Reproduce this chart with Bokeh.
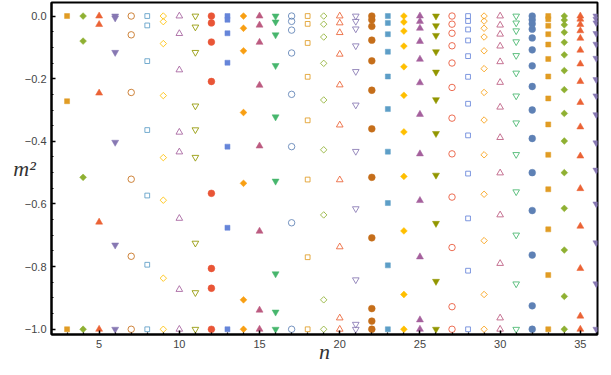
import numpy as np
from bokeh.plotting import figure
from bokeh.models import Range1d, FixedTicker
from bokeh.embed import file_html
from bokeh.resources import INLINE

# ---------------- data (m^2 levels for each n) ----------------
n_values = list(range(3, 37))

m2_n03 = [0.0, -0.272, -1.0]
m2_n04 = [0.0, -0.080, -0.515, -1.0]
m2_n05 = [0.0, -0.027, -0.246, -0.658, -1.0]
m2_n06 = [0.0, -0.006, -0.116, -0.403, -0.731, -1.0]
m2_n07 = [0.0, -0.060, -0.244, -0.521, -0.767, -1.0]
m2_n08 = [0.0, -0.030, -0.144, -0.364, -0.573, -0.794, -1.0]
m2_n09 = [0.0, -0.018, -0.088, -0.254, -0.452, -0.588, -0.837, -1.0]
m2_n10 = [0.0, -0.056, -0.172, -0.371, -0.434, -0.646, -0.873, -1.0]
m2_n11 = [0.0, -0.035, -0.116, -0.287, -0.363, -0.451, -0.725, -0.883, -1.0]
m2_n12 = [0.0, -0.022, -0.083, -0.209, -0.566, -0.806, -0.869, -1.0]
m2_n13 = [0.0, -0.012, -0.055, -0.149, -0.417, -0.676, -1.0]
m2_n14 = [0.0, -0.039, -0.111, -0.308, -0.534, -0.906, -1.0]
m2_n15 = [0.0, -0.029, -0.084, -0.221, -0.415, -0.687, -0.939, -1.0]
m2_n16 = [0.0, -0.019, -0.060, -0.158, -0.322, -0.527, -0.823, -0.945, -1.0]
m2_n17 = [0.0, -0.017, -0.045, -0.118, -0.250, -0.417, -0.660, -1.0]
m2_n18 = [0.0, -0.025, -0.086, -0.194, -0.333, -0.522, -0.770, -1.0]
m2_n19 = [0.0, -0.026, -0.067, -0.151, -0.268, -0.427, -0.635, -0.906, -1.0]
m2_n20 = [0.0, -0.022, -0.053, -0.122, -0.220, -0.348, -0.523, -0.737, -0.964, -1.0]
m2_n21 = [0.0, -0.017, -0.041, -0.095, -0.177, -0.284, -0.432, -0.615, -0.842, -0.984, -1.0]
m2_n22 = [0.0, -0.012, -0.033, -0.077, -0.143, -0.237, -0.360, -0.515, -0.708, -0.934, -0.974, -1.0]
m2_n23 = [0.0, -0.022, -0.058, -0.114, -0.193, -0.297, -0.433, -0.597, -0.796, -1.0]
m2_n24 = [0.0, -0.019, -0.048, -0.096, -0.162, -0.253, -0.370, -0.512, -0.686, -0.889, -1.0]
m2_n25 = [0.0, -0.017, -0.039, -0.081, -0.138, -0.213, -0.314, -0.440, -0.589, -0.769, -0.970, -1.0]
m2_n26 = [0.0, -0.031, -0.062, -0.114, -0.179, -0.267, -0.375, -0.508, -0.662, -0.847, -1.0]
m2_n27 = [0.0, -0.026, -0.055, -0.095, -0.150, -0.228, -0.326, -0.440, -0.578, -0.739, -0.928, -1.0]
m2_n28 = [0.0, -0.016, -0.043, -0.078, -0.128, -0.194, -0.280, -0.381, -0.503, -0.646, -0.813, -1.0]
m2_n29 = [0.0, -0.016, -0.039, -0.067, -0.111, -0.168, -0.244, -0.332, -0.443, -0.569, -0.717, -0.889, -1.0]
m2_n30 = [0.0, -0.029, -0.058, -0.096, -0.146, -0.212, -0.291, -0.388, -0.501, -0.635, -0.790, -0.964, -1.0]
m2_n31 = [0.0, -0.022, -0.047, -0.082, -0.126, -0.182, -0.255, -0.341, -0.442, -0.561, -0.699, -0.855, -1.0]
m2_n32 = [0.0, -0.012, -0.025, -0.042, -0.070, -0.108, -0.159, -0.225, -0.300, -0.391, -0.500, -0.621, -0.763, -0.925, -1.0]
m2_n33 = [0.0, -0.010, -0.031, -0.058, -0.091, -0.137, -0.193, -0.263, -0.346, -0.443, -0.553, -0.681, -0.827, -1.0]
m2_n34 = [0.0, -0.013, -0.028, -0.052, -0.084, -0.124, -0.174, -0.235, -0.311, -0.399, -0.500, -0.614, -0.747, -0.895, -1.0]
m2_n35 = [0.0, -0.010, -0.027, -0.047, -0.071, -0.109, -0.153, -0.209, -0.276, -0.354, -0.447, -0.551, -0.671, -0.806, -0.958, -1.0]
m2_n36 = [0.0, -0.010, -0.022, -0.056, -0.090, -0.135, -0.203, -0.255, -0.315, -0.405, -0.492, -0.600, -0.724, -0.855, -1.0]

series = {
    3: m2_n03, 4: m2_n04, 5: m2_n05, 6: m2_n06, 7: m2_n07, 8: m2_n08,
    9: m2_n09, 10: m2_n10, 11: m2_n11, 12: m2_n12, 13: m2_n13, 14: m2_n14,
    15: m2_n15, 16: m2_n16, 17: m2_n17, 18: m2_n18, 19: m2_n19, 20: m2_n20,
    21: m2_n21, 22: m2_n22, 23: m2_n23, 24: m2_n24, 25: m2_n25, 26: m2_n26,
    27: m2_n27, 28: m2_n28, 29: m2_n29, 30: m2_n30, 31: m2_n31, 32: m2_n32,
    33: m2_n33, 34: m2_n34, 35: m2_n35, 36: m2_n36,
}

x_ticks = [5, 10, 15, 20, 25, 30, 35]
y_ticks = [-1.0, -0.8, -0.6, -0.4, -0.2, 0.0]
y_tick_labels = ["\u22121.0", "\u22120.8", "\u22120.6", "\u22120.4", "\u22120.2", "0.0"]
x_label = "n"
y_label = "m\u00b2"

# ---------------- styles ----------------
palette = ["#5E81B5", "#E19C24", "#8FB032", "#EB6235", "#8778B3",
           "#C56E1A", "#5D9EC7", "#FFBF00", "#A5609D", "#929600",
           "#E95536", "#6685D9", "#F89F13", "#BC5B80", "#47B66D"]
marker_cycle = [("circle", True), ("square", True), ("diamond", True),
                ("triangle", True), ("inverted_triangle", True),
                ("circle", False), ("square", False), ("diamond", False),
                ("triangle", False), ("inverted_triangle", False)]
marker_size = {"circle": 6.8, "square": 5.0, "diamond": 4.8,
               "triangle": 7.0, "inverted_triangle": 7.0}

p = figure(width=603, height=366, output_backend="svg", toolbar_location=None,
           x_range=Range1d(2.03, 36.07), y_range=Range1d(-1.0167, 0.0432),
           min_border_left=51, min_border_right=6, min_border_top=2,
           min_border_bottom=28)
p.grid.grid_line_color = None
p.background_fill_color = "#ffffff"
p.border_fill_color = "#ffffff"
p.outline_line_color = "#000000"
p.outline_line_width = 2
p.outline_line_alpha = 1.0

xaxis = p.xaxis[0]
yaxis = p.yaxis[0]
x_minor = [float(v) for v in range(3, 37) if v % 5 != 0]
y_minor = [round(-0.05 * k, 2) for k in range(1, 21) if k % 4 != 0]
xaxis.ticker = FixedTicker(ticks=x_ticks, minor_ticks=x_minor)
yaxis.ticker = FixedTicker(ticks=y_ticks, minor_ticks=y_minor)
yaxis.major_label_overrides = dict(zip(y_ticks, y_tick_labels))

for ax in (xaxis, yaxis):
    ax.axis_line_color = "#000000"
    ax.axis_line_width = 2
    ax.axis_line_alpha = 1.0
    ax.major_tick_in = 4
    ax.major_tick_out = 0
    ax.minor_tick_in = 2
    ax.minor_tick_out = 0
    ax.major_tick_line_color = "#000000"
    ax.minor_tick_line_color = "#000000"
    ax.major_tick_line_width = 1.5
    ax.minor_tick_line_width = 1.2
    ax.major_label_text_font = "Liberation Sans"
    ax.major_label_text_font_size = "11px"
    ax.major_label_text_color = "#444444"
    ax.major_label_standoff = 5
    ax.axis_label_text_font = "Liberation Serif"
    ax.axis_label_text_font_style = "italic"
    ax.axis_label_text_font_size = "22px"
    ax.axis_label_text_color = "#333333"

xaxis.axis_label = x_label
xaxis.axis_label_standoff = -12
yaxis.axis_label = y_label
yaxis.axis_label_orientation = "horizontal"
yaxis.axis_label_standoff = -14

# ---------------- points ----------------
for n in n_values:
    idx = n - 2
    mk, filled = marker_cycle[idx % 10]
    color = palette[idx % 15]
    ys = series[n]
    xs = [n] * len(ys)
    angle = 0.0
    glyph = mk
    if mk == "diamond":
        glyph = "square"
        angle = np.pi / 4
    size = marker_size[mk] if filled else marker_size[mk] * 0.95
    if filled:
        p.scatter(xs, ys, marker=glyph, angle=angle, size=size,
                  fill_color=color, line_color=color, line_width=0.5)
    else:
        p.scatter(xs, ys, marker=glyph, angle=angle, size=size,
                  fill_color=None, line_color=color, line_width=1.0,
                  line_alpha=0.85)

open("out.html", "w").write(file_html(p, INLINE))
